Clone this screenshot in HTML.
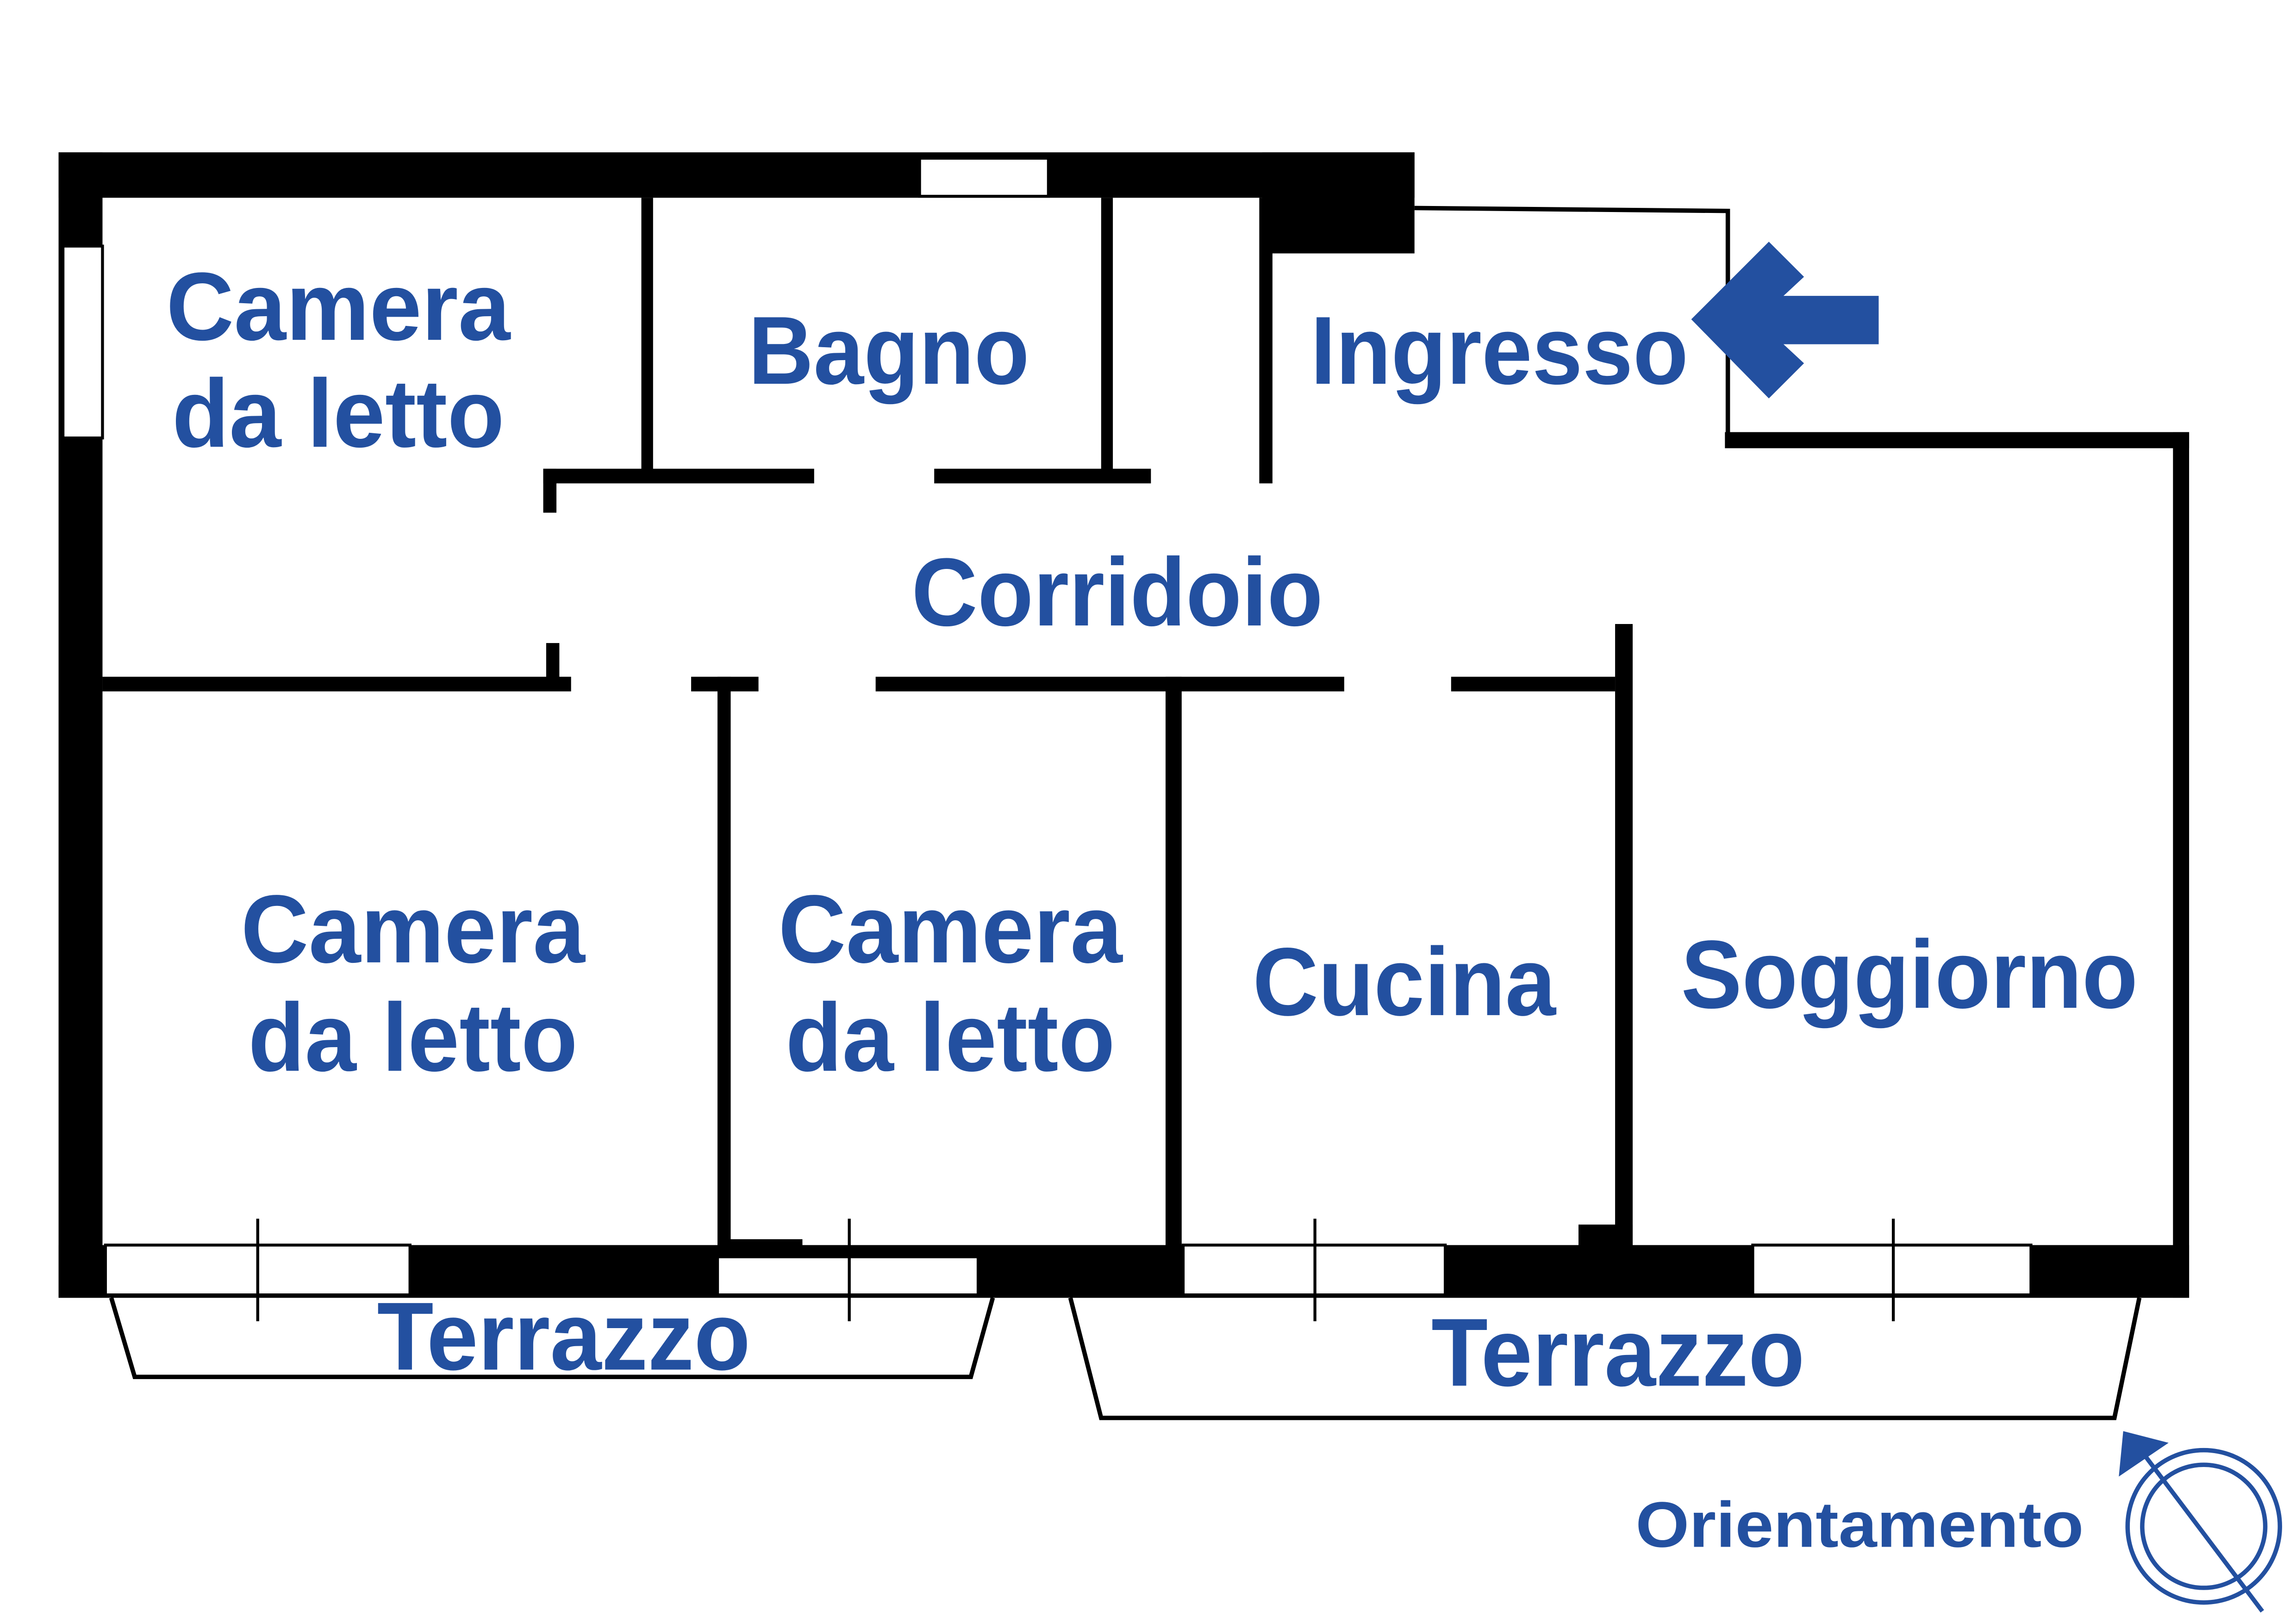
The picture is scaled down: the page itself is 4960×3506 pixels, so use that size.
<!DOCTYPE html>
<html><head><meta charset="utf-8"><style>
html,body{margin:0;padding:0;background:#fff;}
svg{display:block;}
text{font-family:"Liberation Sans",Arial,sans-serif;font-weight:bold;fill:#2350a0;text-anchor:middle;}
</style></head><body>
<svg width="4960" height="3506" viewBox="0 0 1568 1108" preserveAspectRatio="none" xmlns="http://www.w3.org/2000/svg">
<rect x="0" y="0" width="1568" height="1108" fill="#fff"/>
<g fill="#000">
<!-- outer walls -->
<rect x="40" y="104" width="926" height="31"/>
<rect x="862" y="104" width="104" height="69"/>
<rect x="40" y="104" width="30" height="782"/>
<rect x="40" y="850" width="1455" height="36"/>
<rect x="1484" y="295" width="11" height="591"/>
<rect x="1178" y="295" width="317" height="11"/>
<!-- interior -->
<rect x="860" y="135" width="9" height="195"/>
<rect x="438" y="135" width="8" height="190"/>
<rect x="752" y="135" width="8" height="190"/>
<rect x="371" y="320" width="185" height="10"/>
<rect x="638" y="320" width="148" height="10"/>
<rect x="371" y="320" width="9" height="30"/>
<rect x="373" y="439" width="9" height="31"/>
<rect x="70" y="462" width="320" height="10"/>
<rect x="472" y="462" width="46" height="10"/>
<rect x="598" y="462" width="320" height="10"/>
<rect x="991" y="462" width="112" height="10"/>
<rect x="490" y="462" width="9" height="390"/>
<rect x="796" y="462" width="11" height="390"/>
<rect x="1103" y="426" width="12" height="426"/>
<rect x="1078" y="836" width="37" height="16"/>
<rect x="490" y="846" width="58" height="12"/>
</g>
<!-- windows -->
<g fill="#fff" stroke="#000" stroke-width="2">
<rect x="628" y="108" width="88" height="26"/>
<rect x="43" y="168" width="27" height="131"/>
<rect x="72" y="850" width="208" height="34"/>
<rect x="490" y="858" width="178" height="26"/>
<rect x="808" y="850" width="179" height="34"/>
<rect x="1197" y="850" width="190" height="34"/>
</g>
<g stroke="#000" stroke-width="2">
<line x1="176" y1="832" x2="176" y2="902"/>
<line x1="580" y1="832" x2="580" y2="902"/>
<line x1="898" y1="832" x2="898" y2="902"/>
<line x1="1293" y1="832" x2="1293" y2="902"/>
</g>
<!-- ingresso thin walls -->
<g fill="none" stroke="#000" stroke-width="3">
<polyline points="966,142 1180,144 1180,300"/>
<polyline points="76,886 92,940 663,940 678,886"/>
<polyline points="731,886 752,968 1444,968 1461,886"/>
</g>
<!-- entrance arrow -->
<polygon fill="#2350a0" points="1155,218 1208,165 1232,189 1218,202 1283,202 1283,235 1218,235 1232,248 1208,272"/>
<!-- labels -->
<g font-size="66">
<text x="231" y="232" textLength="235" lengthAdjust="spacingAndGlyphs">Camera</text>
<text x="231" y="305" textLength="227" lengthAdjust="spacingAndGlyphs">da letto</text>
<text x="607" y="262" textLength="192" lengthAdjust="spacingAndGlyphs">Bagno</text>
<text x="1024" y="262" textLength="258" lengthAdjust="spacingAndGlyphs">Ingresso</text>
<text x="763" y="427" textLength="281" lengthAdjust="spacingAndGlyphs">Corridoio</text>
<text x="282" y="657" textLength="235" lengthAdjust="spacingAndGlyphs">Camera</text>
<text x="282" y="731" textLength="225" lengthAdjust="spacingAndGlyphs">da letto</text>
<text x="649" y="657" textLength="235" lengthAdjust="spacingAndGlyphs">Camera</text>
<text x="649" y="731" textLength="225" lengthAdjust="spacingAndGlyphs">da letto</text>
<text x="959" y="693" textLength="207" lengthAdjust="spacingAndGlyphs">Cucina</text>
<text x="1304" y="688" textLength="312" lengthAdjust="spacingAndGlyphs">Soggiorno</text>
<text x="385" y="935" textLength="255" lengthAdjust="spacingAndGlyphs">Terrazzo</text>
<text x="1105" y="946" textLength="255" lengthAdjust="spacingAndGlyphs">Terrazzo</text>
</g>
<text x="1270" y="1056" font-size="44" textLength="306" lengthAdjust="spacingAndGlyphs">Orientamento</text>
<!-- compass -->
<g fill="none" stroke="#2350a0" stroke-width="3">
<circle cx="1505" cy="1042" r="52"/>
<circle cx="1505" cy="1042" r="42"/>
<line x1="1462" y1="990" x2="1545" y2="1100"/>
</g>
<polygon fill="#2350a0" points="1447,1008 1450,977 1481,985"/>
</svg>
</body></html>
